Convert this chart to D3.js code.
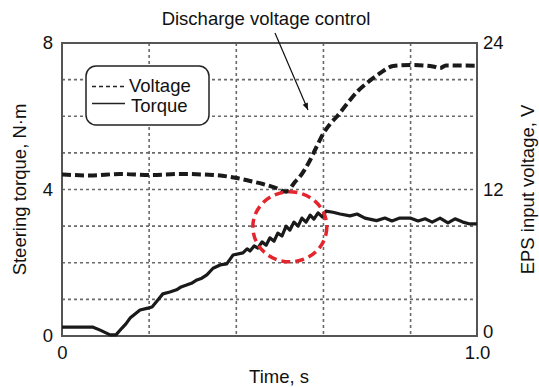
<!DOCTYPE html>
<html>
<head>
<meta charset="utf-8">
<script src="https://cdn.jsdelivr.net/npm/d3@7"></script>
<style>
  html, body { margin: 0; padding: 0; background: #fff; }
  svg { display: block; font-family: "Liberation Sans", Arial, sans-serif; }
</style>
</head>
<body>
<svg id="chart" width="539" height="387"></svg>
<script>
// ---- data ----
const timeTicks = [0, 1.0];
const timeTickLabels = ["0", "1.0"];
const xGridTicks = [0.21, 0.42, 0.63, 0.84];
const torqueTicks = [0, 4, 8];
const torqueGridTicks = [1, 2, 3, 4, 5, 6, 7];
const voltageTicks = [0, 12, 24];

const torqueTime = [0, 0.075, 0.092, 0.116, 0.13, 0.144, 0.154, 0.164, 0.176, 0.188, 0.207, 0.217, 0.228, 0.243, 0.26, 0.276, 0.287, 0.3, 0.312, 0.325, 0.337, 0.349, 0.364, 0.381, 0.397, 0.412, 0.436, 0.446, 0.453, 0.463, 0.472, 0.482, 0.492, 0.501, 0.511, 0.52, 0.53, 0.54, 0.549, 0.559, 0.569, 0.578, 0.588, 0.598, 0.607, 0.617, 0.627, 0.636, 0.653, 0.67, 0.694, 0.711, 0.73, 0.758, 0.778, 0.795, 0.814, 0.839, 0.858, 0.875, 0.892, 0.911, 0.93, 0.947, 0.966, 0.983, 1.0];
const torqueValues = [0.24, 0.24, 0.16, 0.03, 0.03, 0.21, 0.33, 0.49, 0.60, 0.71, 0.76, 0.79, 0.94, 1.15, 1.20, 1.26, 1.34, 1.39, 1.44, 1.53, 1.58, 1.67, 1.85, 1.94, 1.97, 2.21, 2.27, 2.38, 2.32, 2.46, 2.40, 2.57, 2.48, 2.68, 2.59, 2.81, 2.73, 3.00, 2.89, 3.11, 3.00, 3.22, 3.11, 3.30, 3.19, 3.36, 3.25, 3.41, 3.38, 3.33, 3.28, 3.33, 3.22, 3.15, 3.22, 3.14, 3.22, 3.22, 3.14, 3.20, 3.11, 3.22, 3.09, 3.20, 3.11, 3.06, 3.06];

const voltageTime = [0, 0.067, 0.14, 0.212, 0.284, 0.364, 0.421, 0.453, 0.484, 0.513, 0.541, 0.561, 0.573, 0.598, 0.612, 0.63, 0.646, 0.662, 0.694, 0.713, 0.734, 0.766, 0.798, 0.839, 0.894, 0.911, 0.925, 1.0];
const voltageValues = [13.23, 13.15, 13.27, 13.19, 13.27, 13.19, 12.94, 12.70, 12.45, 12.16, 11.82, 12.61, 13.05, 14.42, 15.40, 16.60, 17.37, 17.96, 19.33, 20.07, 20.70, 21.52, 22.12, 22.20, 22.08, 21.95, 22.16, 22.14];

// annotation anchor (data coordinates)
const circleCenter = { t: 0.549, torque: 2.98 };

// ---- layout ----
const svg = d3.select("#chart");
const L = 62, R = 477, T = 43, B = 336;
const x = d3.scaleLinear().domain([0, 1]).range([L, R]);
const yT = d3.scaleLinear().domain([0, 8]).range([B, T]);
const yV = d3.scaleLinear().domain([0, 24]).range([B, T]);
const fs = 18.5;

// grid
const grid = svg.append("g").attr("stroke", "#6a6a6a").attr("stroke-width", 1.6)
  .attr("stroke-dasharray", "3,3");
grid.selectAll("line.v").data(xGridTicks).join("line")
  .attr("x1", d => x(d)).attr("x2", d => x(d)).attr("y1", T).attr("y2", B);
grid.selectAll("line.h").data(torqueGridTicks).join("line")
  .attr("y1", d => yT(d)).attr("y2", d => yT(d)).attr("x1", L).attr("x2", R);

// frame
svg.append("rect").attr("x", L).attr("y", T).attr("width", R - L).attr("height", B - T)
  .attr("fill", "none").attr("stroke", "#555").attr("stroke-width", 2);

// axes (text only)
const axL = d3.axisLeft(yT).tickValues(torqueTicks).tickSize(0).tickPadding(9).tickFormat(d3.format("d"));
const gL = svg.append("g").attr("transform", `translate(${L},0)`).call(axL);
const axR = d3.axisRight(yV).tickValues(voltageTicks).tickSize(0).tickPadding(6).tickFormat(d3.format("d"));
const gR = svg.append("g").attr("transform", `translate(${R},0)`).call(axR);
const axB = d3.axisBottom(x).tickValues(timeTicks).tickSize(0).tickPadding(10)
  .tickFormat((d, i) => timeTickLabels[i]);
const gB = svg.append("g").attr("transform", `translate(0,${B})`).call(axB);
[gL, gR, gB].forEach(g => {
  g.select(".domain").remove();
  g.selectAll("text").attr("font-size", fs).attr("fill", "#111")
    .attr("font-family", "Liberation Sans, Arial, sans-serif");
});
// right-axis "0" sits just above the x-axis "1.0" label
gR.selectAll(".tick text").filter(d => d === 0).attr("dy", "0.1em");

// axis titles
svg.append("text").attr("transform", `translate(26,${(T + B) / 2}) rotate(-90)`)
  .attr("text-anchor", "middle").attr("font-size", fs).attr("fill", "#111")
  .text("Steering torque, N·m");
svg.append("text").attr("transform", `translate(534,${(T + B) / 2}) rotate(-90)`)
  .attr("text-anchor", "middle").attr("font-size", fs).attr("fill", "#111")
  .text("EPS input voltage, V");
svg.append("text").attr("x", 279).attr("y", 383).attr("text-anchor", "middle")
  .attr("font-size", fs).attr("fill", "#111").text("Time, s");

// series
const torqueData = torqueTime.map((t, i) => [t, torqueValues[i]]);
const voltageData = voltageTime.map((t, i) => [t, voltageValues[i]]);
svg.append("path").datum(torqueData)
  .attr("d", d3.line().x(d => x(d[0])).y(d => yT(d[1])))
  .attr("fill", "none").attr("stroke", "#1a1a1a").attr("stroke-width", 3.2)
  .attr("stroke-linejoin", "round");
svg.append("path").datum(voltageData)
  .attr("d", d3.line().curve(d3.curveMonotoneX).x(d => x(d[0])).y(d => yV(d[1])))
  .attr("fill", "none").attr("stroke", "#1a1a1a").attr("stroke-width", 4)
  .attr("stroke-dasharray", "9,4");

// red dashed circle
svg.append("ellipse").attr("cx", x(circleCenter.t)).attr("cy", yT(circleCenter.torque))
  .attr("rx", 37).attr("ry", 35)
  .attr("fill", "none").attr("stroke", "#e3262d").attr("stroke-width", 3.5)
  .attr("stroke-dasharray", "9,5");

// annotation
svg.append("defs").append("marker").attr("id", "arr").attr("viewBox", "0 0 10 10")
  .attr("refX", 10).attr("refY", 5).attr("markerWidth", 11).attr("markerHeight", 7)
  .attr("markerUnits", "userSpaceOnUse").attr("orient", "auto")
  .append("path").attr("d", "M0,1 L10,5 L0,9 z").attr("fill", "#111");
svg.append("text").attr("x", 266).attr("y", 25).attr("text-anchor", "middle")
  .attr("font-size", fs).attr("fill", "#111").text("Discharge voltage control");
svg.append("line").attr("x1", 275).attr("y1", 33).attr("x2", 308).attr("y2", 110)
  .attr("stroke", "#111").attr("stroke-width", 1.2).attr("marker-end", "url(#arr)");

// legend
const lg = svg.append("g");
lg.append("rect").attr("x", 86).attr("y", 66).attr("width", 123).attr("height", 59)
  .attr("rx", 10).attr("fill", "#fff").attr("stroke", "#222").attr("stroke-width", 1.5);
lg.append("line").attr("x1", 92).attr("x2", 125).attr("y1", 86.5).attr("y2", 86.5)
  .attr("stroke", "#222").attr("stroke-width", 1.5).attr("stroke-dasharray", "4,3");
lg.append("line").attr("x1", 92).attr("x2", 125).attr("y1", 103.5).attr("y2", 103.5)
  .attr("stroke", "#222").attr("stroke-width", 1.5);
lg.append("text").attr("x", 129).attr("y", 92).attr("font-size", fs).attr("fill", "#111").text("Voltage");
lg.append("text").attr("x", 131).attr("y", 112).attr("font-size", fs).attr("fill", "#111").text("Torque");
</script>
</body>
</html>
